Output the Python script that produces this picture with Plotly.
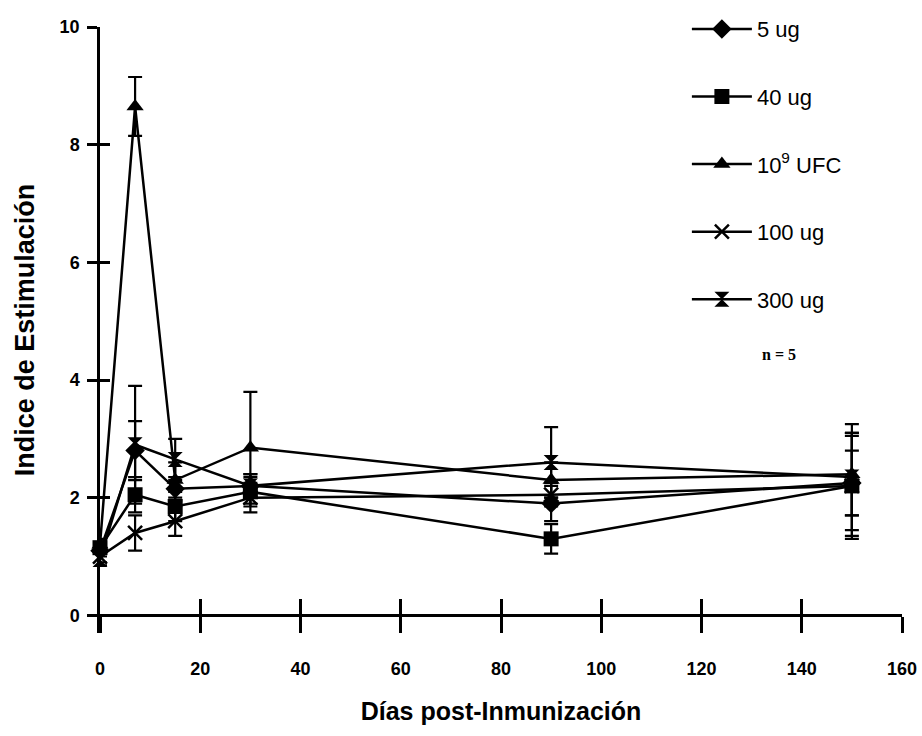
import plotly.graph_objects as go

days = [0, 7, 15, 30, 90, 150]

names = ["5 ug", "40 ug", "10<sup>9</sup> UFC", "100 ug", "300 ug"]
symbols = ["diamond", "square", "triangle-up", "x-thin", "hourglass"]

v_5ug = [1.10, 2.80, 2.15, 2.20, 1.90, 2.25]
e_5ug = [0.10, 0.50, 0.20, 0.20, 0.30, 0.55]

v_40ug = [1.15, 2.05, 1.85, 2.10, 1.30, 2.20]
e_40ug = [0.10, 0.30, 0.25, 0.25, 0.25, 0.90]

v_ufc = [1.20, 8.65, 2.30, 2.85, 2.30, 2.40]
e_ufc = [0.10, 0.50, 0.30, 0.95, 0.30, 0.70]

v_100ug = [1.00, 1.40, 1.60, 2.00, 2.05, 2.20]
e_100ug = [0.10, 0.30, 0.25, 0.25, 0.20, 0.85]

v_300ug = [0.95, 2.90, 2.65, 2.20, 2.60, 2.35]
e_300ug = [0.10, 1.00, 0.35, 0.20, 0.60, 0.90]

values = [v_5ug, v_40ug, v_ufc, v_100ug, v_300ug]
errors = [e_5ug, e_40ug, e_ufc, e_100ug, e_300ug]

x_ticks = [0, 20, 40, 60, 80, 100, 120, 140, 160]
y_ticks = [0, 2, 4, 6, 8, 10]

fig = go.Figure()
for i, (nm, sym, v, e) in enumerate(zip(names, symbols, values, errors)):
    is_line_sym = sym == "x-thin"
    fig.add_trace(go.Scatter(
        x=days, y=v, name=nm, mode="lines+markers",
        legendgroup=str(i),
        line=dict(color="black", width=2.5),
        marker=dict(symbol=sym, size=15 if not is_line_sym else 14, color="black",
                    line=dict(color="black", width=2.5 if is_line_sym else 0)),
        error_y=dict(type="data", array=e, visible=True, color="black",
                     thickness=2.2, width=7),
        cliponaxis=False,
    ))

# overlay trace for crossing ticks
fig.add_trace(go.Scatter(x=[0], y=[0], xaxis="x2", yaxis="y2", mode="markers",
                         marker=dict(size=1, opacity=0),
                         showlegend=False, hoverinfo="skip"))

ypos = 0.3 / 10.3
tickfont = dict(family="Liberation Sans, Arial", size=18, color="black", weight="bold")
titlefont_x = dict(family="Liberation Sans, Arial", size=25, color="black", weight="bold")
titlefont_y = dict(family="Liberation Sans, Arial", size=27, color="black", weight="bold")

fig.update_layout(
    width=922, height=736,
    margin=dict(l=100, r=20, t=27, b=103, autoexpand=False),
    paper_bgcolor="white", plot_bgcolor="white",
    font=dict(family="Liberation Sans, Arial", color="black"),
    xaxis=dict(range=[0, 160], tickvals=x_ticks, ticks="outside", ticklen=16,
               tickwidth=2.5, tickcolor="black", showline=True, linecolor="black",
               linewidth=2.5, showgrid=False, zeroline=False,
               anchor="free", position=ypos,
               tickfont=tickfont, ticklabelstandoff=20,
               title=dict(text="Días post-Inmunización", standoff=24, font=titlefont_x)),
    yaxis=dict(range=[-0.3, 10], tickvals=y_ticks, ticks="outside", ticklen=10,
               tickwidth=2.5, tickcolor="black", showline=True, linecolor="black",
               linewidth=2.5, showgrid=False, zeroline=False,
               tickfont=tickfont, ticklabelstandoff=4,
               title=dict(text="Indice de Estimulación", standoff=18, font=titlefont_y)),
    xaxis2=dict(range=[0, 160], tickvals=x_ticks, ticks="inside", ticklen=16,
                tickwidth=2.5, tickcolor="black", showticklabels=False, showline=False,
                showgrid=False, zeroline=False, overlaying="x", anchor="free", position=ypos),
    yaxis2=dict(range=[-0.3, 10], tickvals=y_ticks, ticks="inside", ticklen=10,
                tickwidth=2.5, tickcolor="black", showticklabels=False, showline=False,
                showgrid=False, zeroline=False, overlaying="y", anchor="x2"),
    legend=dict(x=0.745, y=0.989, xref="container", yref="container",
                xanchor="left", yanchor="top",
                bgcolor="rgba(0,0,0,0)", tracegroupgap=36, itemwidth=60,
                font=dict(family="Liberation Sans, Arial", size=22, color="black")),
    showlegend=True,
    annotations=[dict(text="<b>n = 5</b>", x=0.823, y=0.459, xref="paper", yref="paper",
                      xanchor="left", yanchor="middle", showarrow=False,
                      font=dict(family="Liberation Serif, Times New Roman", size=16, color="black"))],
)

fig.write_html("out.html")
